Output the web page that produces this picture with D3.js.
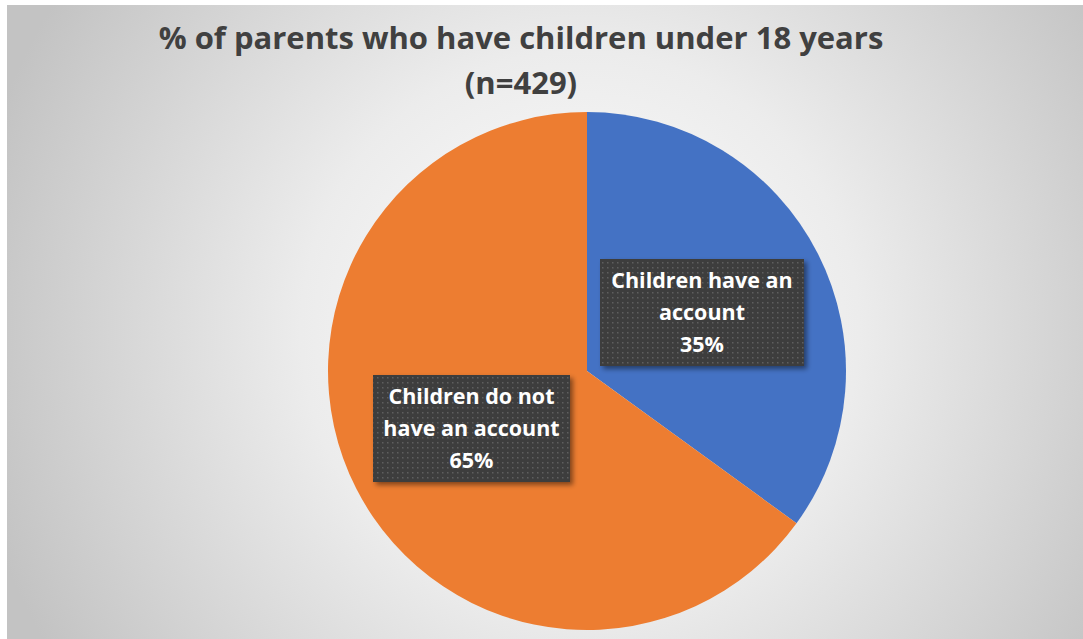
<!DOCTYPE html>
<html>
<head>
<meta charset="utf-8">
<script src="https://cdn.jsdelivr.net/npm/d3@7"></script>
<style>
  html, body { margin: 0; padding: 0; background: #ffffff; }
  svg { display: block; }
</style>
</head>
<body>
<svg id="chart" width="1083" height="639"></svg>
<script>
// Survey answers and their shares (percent)
const categories = ["Children have an account", "Children do not have an account"];
const values = [35, 65];
const labelLines = [["Children have an", "account", "35%"], ["Children do not", "have an account", "65%"]];
const colors = ["#4472c4", "#ed7d31"];
const titleLines = ["% of parents who have children under 18 years", "(n=429)"];

const W = 1083, H = 639;
const svg = d3.select("#chart");
const defs = svg.append("defs");

// Chart area background: soft radial grey gradient
const bg = defs.append("radialGradient").attr("id", "bgGrad")
  .attr("gradientUnits", "userSpaceOnUse")
  .attr("cx", 580).attr("cy", 330).attr("r", 620);
bg.append("stop").attr("offset", "0%").attr("stop-color", "#ffffff");
bg.append("stop").attr("offset", "45%").attr("stop-color", "#ececec");
bg.append("stop").attr("offset", "100%").attr("stop-color", "#c3c3c3");

// Dotted fill for the data label boxes
const pat = defs.append("pattern").attr("id", "dots")
  .attr("patternUnits", "userSpaceOnUse").attr("width", 5).attr("height", 5);
pat.append("rect").attr("width", 5).attr("height", 5).attr("fill", "#3e3e3e");
pat.append("rect").attr("x", 2).attr("y", 2).attr("width", 1.5).attr("height", 1.5).attr("fill", "#5e5e5e");

const shadow = defs.append("filter").attr("id", "shadow")
  .attr("x", "-20%").attr("y", "-20%").attr("width", "140%").attr("height", "140%");
shadow.append("feDropShadow").attr("dx", 3).attr("dy", 3).attr("stdDeviation", 2.5)
  .attr("flood-color", "#000").attr("flood-opacity", 0.45);

svg.append("rect").attr("x", 7).attr("y", 5).attr("width", W - 7).attr("height", H - 5)
  .attr("fill", "url(#bgGrad)");

// Title
const title = svg.append("text")
  .attr("text-anchor", "middle")
  .attr("font-family", "'Open Sans', 'Liberation Sans', sans-serif")
  .attr("font-weight", "bold").attr("font-size", 31)
  .attr("fill", "#404040");
titleLines.forEach((t, i) => {
  title.append("tspan").attr("x", 521).attr("y", 49 + i * 45).text(t);
});

// Pie
const cx = 587, cy = 371, r = 259;
const pie = d3.pie().sort(null).value(d => d)(values);
const arc = d3.arc().innerRadius(0).outerRadius(r);
const g = svg.append("g").attr("transform", `translate(${cx},${cy})`);
g.selectAll("path.slice").data(pie).join("path")
  .attr("class", "slice")
  .attr("d", arc)
  .attr("fill", (d, i) => colors[i]);

// Data labels in dark dotted boxes
const boxes = [
  { x: 600, y: 259, w: 204, h: 107 },
  { x: 373, y: 375, w: 197, h: 107 }
];
const fontSize = 21.5, lineH = 32;
pie.forEach((d, i) => {
  const b = boxes[i];
  const lg = svg.append("g").attr("class", "data-label");
  lg.append("rect").attr("x", b.x).attr("y", b.y).attr("width", b.w).attr("height", b.h)
    .attr("fill", "url(#dots)").attr("filter", "url(#shadow)");
  const t = lg.append("text").attr("text-anchor", "middle")
    .attr("font-family", "'Open Sans', 'Liberation Sans', sans-serif")
    .attr("font-weight", "bold").attr("font-size", fontSize).attr("fill", "#ffffff");
  labelLines[i].forEach((s, j) => {
    t.append("tspan").attr("x", b.x + b.w / 2).attr("y", b.y + 29 + j * lineH).text(s);
  });
});
</script>
</body>
</html>
